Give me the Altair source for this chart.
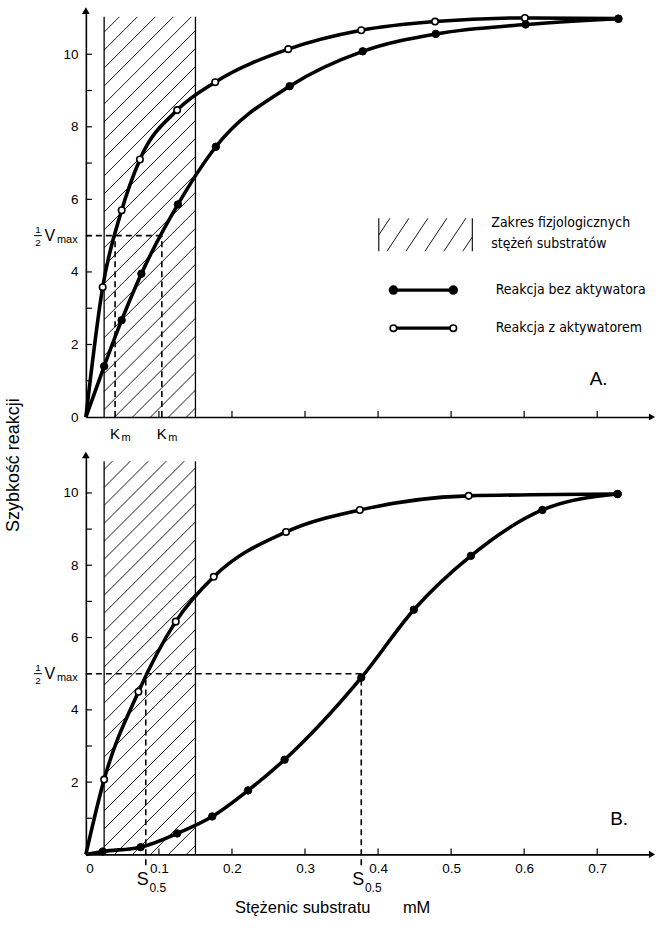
import altair as alt
import pandas as pd

# ---------------- data ----------------
# Panel A
a_x_open = [0.023, 0.049, 0.074, 0.125, 0.177, 0.277, 0.377, 0.478, 0.601, 0.729]
a_y_open = [3.58, 5.70, 7.10, 8.46, 9.23, 10.14, 10.66, 10.90, 11.00, 10.98]
a_x_fill = [0.025, 0.049, 0.076, 0.126, 0.178, 0.279, 0.379, 0.479, 0.602, 0.729]
a_y_fill = [1.40, 2.67, 3.95, 5.86, 7.45, 9.12, 10.08, 10.56, 10.82, 10.98]
a_km = [0.040, 0.104]

# Panel B
b_x_open = [0.025, 0.072, 0.123, 0.175, 0.274, 0.375, 0.524, 0.728]
b_y_open = [2.07, 4.50, 6.44, 7.68, 8.92, 9.53, 9.92, 9.97]
b_x_fill = [0.023, 0.075, 0.125, 0.173, 0.222, 0.272, 0.377, 0.449, 0.527, 0.625, 0.728]
b_y_fill = [0.08, 0.20, 0.58, 1.05, 1.77, 2.62, 4.89, 6.77, 8.26, 9.53, 9.97]
b_s05 = [0.082, 0.377]

half_vmax = 5
hatch_range = [0.025, 0.150]
x_tick_values = [0.1, 0.2, 0.3, 0.4, 0.5, 0.6, 0.7]
x_label_values = [0, 0.1, 0.2, 0.3, 0.4, 0.5, 0.6, 0.7]
y_minor = [1, 2, 3, 4, 5, 6, 7, 8, 9, 10]
a_y_labels = [0, 2, 4, 6, 8, 10]
b_y_labels = [2, 4, 6, 8, 10]

legend_texts = ["Zakres fizjologicznych", "stężeń  substratów",
                "Reakcja bez aktywatora", "Reakcja z aktywatorem"]

# ---------------- layout constants ----------------
XMAX = 0.775
W = 567
PX = W / XMAX
H_A, YMAX_A = 407, 11.2
H_B, YMAX_B = 400, 11.05
FONT = "Liberation Sans"
LFONT = "Liberation Sans Narrow, DejaVu Sans Condensed, Liberation Sans"


class Panel:
    def __init__(self, ymax, h, show_x_labels, y_labels):
        self.ymax = ymax
        self.h = h
        self.ppy = h / ymax
        self.xaxis = alt.Axis(values=x_label_values, labels=show_x_labels, ticks=False,
                              labelExpr="datum.value == 0 ? '0' : format(datum.value, '.1f')",
                              domainColor="black", domainWidth=1.6, labelFont=FONT, labelFontSize=13.5,
                              labelColor="black", labelPadding=7, title=None, grid=False)
        self.yaxis = alt.Axis(values=y_labels, ticks=False, domainColor="black", domainWidth=1.6,
                              labelFont=FONT, labelFontSize=13.5, labelColor="black", labelPadding=8,
                              title=None, grid=False)

    def x(self, field):
        return alt.X(field, type="quantitative",
                     scale=alt.Scale(domain=[0, XMAX], nice=False, zero=False), axis=self.xaxis)

    def y(self, field):
        return alt.Y(field, type="quantitative",
                     scale=alt.Scale(domain=[0, self.ymax], nice=False, zero=False), axis=self.yaxis)


def hatch_rows(x0, x1, y0, y1, ppy, spacing, slope):
    w = (x1 - x0) * PX
    h = (y1 - y0) * ppy
    rows = []
    c = -slope * w + spacing * slope * 0.5
    while c < h:
        xa = max(0.0, (0 - c) / slope)
        xb = min(w, (h - c) / slope)
        if xb > xa:
            rows.append(dict(x=x0 + xa / PX, y=y0 + (slope * xa + c) / ppy,
                             x2=x0 + xb / PX, y2=y0 + (slope * xb + c) / ppy))
        c += spacing * slope
    return pd.DataFrame(rows)


def curves_layers(P, xo, yo, xf, yf):
    rows = []
    for s, xx, yy in (("o", xo, yo), ("f", xf, yf)):
        rows.append(dict(x=0.0, y=0.0, s=s, o=0))
        for i, (a, b) in enumerate(zip(xx, yy)):
            rows.append(dict(x=a, y=b, s=s, o=i + 1))
    df = pd.DataFrame(rows)
    line = alt.Chart(df).mark_line(interpolate="monotone", strokeWidth=3.6, color="black").encode(
        x=P.x("x"), y=P.y("y"), detail="s:N", order="o:Q")
    po = alt.Chart(pd.DataFrame(dict(x=xo, y=yo))).mark_point(
        shape="circle", filled=True, fill="white", stroke="black", strokeWidth=1.6, size=42, opacity=1
    ).encode(x=P.x("x"), y=P.y("y"))
    pf = alt.Chart(pd.DataFrame(dict(x=xf, y=yf))).mark_point(
        shape="circle", filled=True, fill="black", stroke="black", strokeWidth=1, size=55, opacity=1
    ).encode(x=P.x("x"), y=P.y("y"))
    return [line, po, pf]


def frame_layers(P):
    ymax, h = P.ymax, P.h
    base = alt.Chart(pd.DataFrame(dict(x=[0.0], y=[0.0]))).mark_point(opacity=0).encode(
        x=P.x("x"), y=P.y("y"))
    yt = alt.Chart(pd.DataFrame(dict(v=y_minor))).mark_rule(color="black", strokeWidth=1.2).encode(
        y=P.y("v"), x=alt.value(0), x2=alt.value(6))
    xt = alt.Chart(pd.DataFrame(dict(v=x_tick_values))).mark_rule(color="black", strokeWidth=1.2).encode(
        x=P.x("v"), y=alt.value(h), y2=alt.value(h - 6))
    arr_up = alt.Chart(pd.DataFrame(dict(x=[0.0], y=[ymax]))).mark_point(
        shape="triangle-up", filled=True, color="black", size=60, opacity=1).encode(
        x=P.x("x"), y=P.y("y"))
    arr_rt = alt.Chart(pd.DataFrame(dict(x=[XMAX], y=[0.0]))).mark_point(
        shape="triangle-right", filled=True, color="black", size=50, opacity=1).encode(
        x=P.x("x"), y=P.y("y"))
    htop = ymax - 0.17
    hd = hatch_rows(hatch_range[0], hatch_range[1], 0, htop, P.ppy, 18, 1.0)
    hatch = alt.Chart(hd).mark_rule(color="black", strokeWidth=0.9).encode(
        x=P.x("x"), y=P.y("y"), x2="x2", y2="y2")
    edges = alt.Chart(pd.DataFrame(dict(x=hatch_range, y=[0, 0], y2=[htop, htop]))).mark_rule(
        color="black", strokeWidth=1.3).encode(x=P.x("x"), y=P.y("y"), y2="y2")
    # "1/2 Vmax" label
    hv = pd.DataFrame(dict(x=[0.0], y=[half_vmax]))
    one = alt.Chart(hv).mark_text(text="1", font=FONT, fontSize=10, dx=-48, dy=-6,
                                  align="center", baseline="middle", color="black").encode(
        x=P.x("x"), y=P.y("y"))
    two = alt.Chart(hv).mark_text(text="2", font=FONT, fontSize=10, dx=-48, dy=7,
                                  align="center", baseline="middle", color="black").encode(
        x=P.x("x"), y=P.y("y"))
    bar = alt.Chart(pd.DataFrame(dict(x=[-52 / PX], x2=[-44 / PX], y=[half_vmax]))).mark_rule(
        color="black", strokeWidth=1).encode(x=P.x("x"), x2="x2", y=P.y("y"))
    vv = alt.Chart(hv).mark_text(text="V", font=FONT, fontSize=16, dx=-36, dy=0,
                                 align="center", baseline="middle", color="black").encode(
        x=P.x("x"), y=P.y("y"))
    mx = alt.Chart(hv).mark_text(text="max", font=FONT, fontSize=11, dx=-29, dy=4,
                                 align="left", baseline="middle", color="black").encode(
        x=P.x("x"), y=P.y("y"))
    return [base, hatch, edges, yt, xt, arr_up, arr_rt, one, two, bar, vv, mx]


def dashed(P, rows):
    return alt.Chart(pd.DataFrame(rows)).mark_rule(
        color="black", strokeWidth=1.6, strokeDash=[6, 4]).encode(
        x=P.x("x"), y=P.y("y"), x2="x2", y2="y2")


# ---------------- Panel A ----------------
PA = Panel(YMAX_A, H_A, False, a_y_labels)
a_layers = frame_layers(PA)
a_layers.append(dashed(PA, [dict(x=0, y=half_vmax, x2=a_km[1], y2=half_vmax),
                            dict(x=a_km[0], y=0, x2=a_km[0], y2=half_vmax),
                            dict(x=a_km[1], y=0, x2=a_km[1], y2=half_vmax)]))
a_layers += curves_layers(PA, a_x_open, a_y_open, a_x_fill, a_y_fill)
km = pd.DataFrame(dict(x=a_km, y=[0, 0]))
a_layers.append(alt.Chart(km).mark_text(text="K", font=FONT, fontSize=15, dx=0, dy=17,
                                        align="center", baseline="middle", color="black").encode(
    x=PA.x("x"), y=PA.y("y")))
a_layers.append(alt.Chart(km).mark_text(text="m", font=FONT, fontSize=11, dx=11, dy=21,
                                        align="center", baseline="middle", color="black").encode(
    x=PA.x("x"), y=PA.y("y")))
# legend
lg_hx = [0.401, 0.529]
lg_hy = [4.57, 5.48]
lgh = hatch_rows(lg_hx[0], lg_hx[1], lg_hy[0], lg_hy[1], PA.ppy, 19, 1.5)
a_layers.append(alt.Chart(lgh).mark_rule(color="black", strokeWidth=0.9).encode(
    x=PA.x("x"), y=PA.y("y"), x2="x2", y2="y2"))
a_layers.append(alt.Chart(pd.DataFrame(dict(x=lg_hx, y=[lg_hy[0]] * 2, y2=[lg_hy[1]] * 2))).mark_rule(
    color="black", strokeWidth=1.1).encode(x=PA.x("x"), y=PA.y("y"), y2="y2"))
lt = pd.DataFrame(dict(x=[0.555, 0.555, 0.561, 0.561], y=[5.34, 4.77, 3.50, 2.45], t=legend_texts))
a_layers.append(alt.Chart(lt).mark_text(font=LFONT, fontSize=14, align="left", baseline="middle",
                                        color="black").encode(
    x=PA.x("x"), y=PA.y("y"), text="t:N"))
ll = pd.DataFrame(dict(x=[0.421, 0.421], x2=[0.503, 0.503], y=[3.50, 2.45]))
a_layers.append(alt.Chart(ll).mark_rule(color="black", strokeWidth=3.4).encode(
    x=PA.x("x"), x2="x2", y=PA.y("y")))
a_layers.append(alt.Chart(pd.DataFrame(dict(x=[0.421, 0.503], y=[3.50, 3.50]))).mark_point(
    shape="circle", filled=True, fill="black", stroke="black", size=55, opacity=1).encode(
    x=PA.x("x"), y=PA.y("y")))
a_layers.append(alt.Chart(pd.DataFrame(dict(x=[0.421, 0.503], y=[2.45, 2.45]))).mark_point(
    shape="circle", filled=True, fill="white", stroke="black", strokeWidth=1.6, size=42, opacity=1).encode(
    x=PA.x("x"), y=PA.y("y")))
a_layers.append(alt.Chart(pd.DataFrame(dict(x=[0.702], y=[1.05], t=["A."]))).mark_text(
    font=FONT, fontSize=19, align="center", baseline="middle", color="black").encode(
    x=PA.x("x"), y=PA.y("y"), text="t:N"))

panelA = alt.layer(*a_layers).properties(width=W, height=H_A)

# ---------------- Panel B ----------------
PB = Panel(YMAX_B, H_B, True, b_y_labels)
b_layers = frame_layers(PB)
b_layers.append(dashed(PB, [dict(x=0, y=half_vmax, x2=b_s05[1], y2=half_vmax),
                            dict(x=b_s05[0], y=-0.3, x2=b_s05[0], y2=half_vmax),
                            dict(x=b_s05[1], y=-0.3, x2=b_s05[1], y2=half_vmax)]))
b_layers += curves_layers(PB, b_x_open, b_y_open, b_x_fill, b_y_fill)
s5 = pd.DataFrame(dict(x=b_s05, y=[0, 0]))
b_layers.append(alt.Chart(s5).mark_text(text="S", font=FONT, fontSize=18, dx=-3, dy=26,
                                        align="center", baseline="middle", color="black").encode(
    x=PB.x("x"), y=PB.y("y")))
b_layers.append(alt.Chart(s5).mark_text(text="0.5", font=FONT, fontSize=12, dx=12, dy=34,
                                        align="center", baseline="middle", color="black").encode(
    x=PB.x("x"), y=PB.y("y")))
b_layers.append(alt.Chart(pd.DataFrame(dict(x=[0.730], y=[0.99], t=["B."]))).mark_text(
    font=FONT, fontSize=19, align="center", baseline="middle", color="black").encode(
    x=PB.x("x"), y=PB.y("y"), text="t:N"))
b_layers.append(alt.Chart(pd.DataFrame(dict(x=[0.204, 0.434], y=[0, 0], t=["Stężenic substratu", "mM"]))).mark_text(
    font=FONT, fontSize=16.5, dy=54, align="left", baseline="middle", color="black").encode(
    x=PB.x("x"), y=PB.y("y"), text="t:N"))
b_layers.append(alt.Chart(pd.DataFrame(dict(x=[-72 / PX], y=[10.77], t=["Szybkość  reakcji"]))).mark_text(
    font=FONT, fontSize=18, angle=270, align="center", baseline="middle", color="black").encode(
    x=PB.x("x"), y=PB.y("y"), text="t:N"))

panelB = alt.layer(*b_layers).properties(width=W, height=H_B)

chart = alt.vconcat(panelA, panelB, spacing=38, bounds="flush").properties(
    padding={"left": 4, "top": 6, "right": 0, "bottom": 5}, background="white"
).configure_view(stroke=None)

chart.save("out.html", embed_options={"renderer": "svg", "actions": False})
